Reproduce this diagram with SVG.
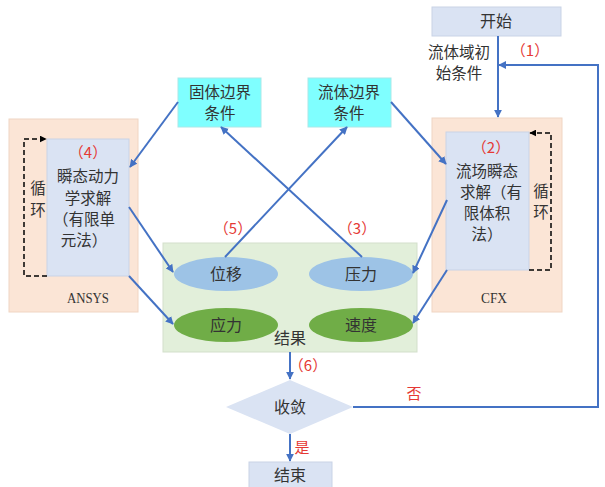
<svg xmlns="http://www.w3.org/2000/svg" width="605" height="487" viewBox="0 0 605 487">
<defs>
<marker id="ab" viewBox="0 0 10 10" refX="9" refY="5" markerWidth="8" markerHeight="8" markerUnits="userSpaceOnUse" orient="auto"><path d="M0,0 L10,5 L0,10 z" fill="#4472C4"/></marker>
<marker id="ak" viewBox="0 0 10 10" refX="9" refY="5" markerWidth="7" markerHeight="7" markerUnits="userSpaceOnUse" orient="auto"><path d="M0,0 L10,5 L0,10 z" fill="#000"/></marker>
<style>
.t{font-family:"Noto Sans CJK SC","Noto Sans",sans-serif;font-size:16px;fill:#333;text-anchor:middle}
.m{font-family:"Noto Sans CJK SC","Noto Sans",sans-serif;font-size:15.5px;fill:#333;text-anchor:middle}
.r{font-family:"Noto Sans CJK SC","Noto Sans",sans-serif;font-size:15px;fill:#E53935;text-anchor:middle}
.s{font-family:"Liberation Serif",serif;font-size:15px;fill:#333;text-anchor:middle}
.c{stroke:#4472C4;stroke-width:2;fill:none;marker-end:url(#ab)}
.d{stroke:#000;stroke-width:1.5;stroke-dasharray:5,3;fill:none;marker-end:url(#ak)}
.box{fill:#DAE3F3;stroke:#c9d3e6;stroke-width:1}
.out{fill:#FBE5D6;stroke:#f0d5c3;stroke-width:1}
.cy{fill:#7FFFFF;stroke:#a9e8e8;stroke-width:1}
</style>
</defs>
<g id="start"><rect class="box" x="432" y="7" width="129" height="29"/><text class="t" x="496" y="27">开始</text></g>
<g id="ansys"><rect class="out" x="9" y="119" width="129" height="193"/><rect class="box" x="47" y="139" width="82" height="137"/>
<text class="r" x="88" y="158">（4）</text>
<text class="m" x="88" y="182">瞬态动力</text><text class="m" x="88" y="204">学求解</text><text class="m" x="84" y="225">（有限单</text><text class="m" x="84" y="246">元法）</text>
<text class="m" x="38" y="194">循</text><text class="m" x="38" y="216">环</text>
<text class="s" x="88" y="303" textLength="42" lengthAdjust="spacingAndGlyphs">ANSYS</text></g>
<g id="cfx"><rect class="out" x="432" y="118" width="130" height="194"/><rect class="box" x="446" y="132" width="83" height="138"/>
<text class="r" x="491" y="153">（2）</text>
<text class="m" x="487" y="177">流场瞬态</text><text class="m" x="491" y="198">求解（有</text><text class="m" x="487" y="219">限体积</text><text class="m" x="487" y="240">法）</text>
<text class="m" x="541" y="197">循</text><text class="m" x="541" y="218">环</text>
<text class="s" x="494" y="303" textLength="26" lengthAdjust="spacingAndGlyphs">CFX</text></g>
<g id="solidbc"><rect class="cy" x="178" y="78" width="83" height="49"/><text class="m" x="220" y="98">固体边界</text><text class="m" x="220" y="119">条件</text></g>
<g id="fluidbc"><rect class="cy" x="308" y="78" width="83" height="49"/><text class="m" x="349" y="98">流体边界</text><text class="m" x="349" y="119">条件</text></g>
<g id="results"><rect x="163" y="243" width="254" height="109" fill="#E2EFDA" stroke="#d3dfcb"/>
<text class="t" x="290" y="344">结果</text></g>
<g id="disp"><ellipse cx="226" cy="274" rx="52" ry="17" fill="#9DC3E6"/><text class="t" x="226" y="280">位移</text></g>
<g id="press"><ellipse cx="361" cy="274" rx="52" ry="17" fill="#9DC3E6"/><text class="t" x="361" y="280">压力</text></g>
<g id="stress"><ellipse cx="226" cy="325" rx="52" ry="17" fill="#70AD47"/><text class="t" x="226" y="331">应力</text></g>
<g id="vel"><ellipse cx="361" cy="325" rx="52" ry="17" fill="#70AD47"/><text class="t" x="361" y="331">速度</text></g>
<g id="conv"><polygon points="290,380 353,407 290,434 226,407" fill="#DAE3F3"/><text class="t" x="290" y="413">收敛</text></g>
<g id="end"><rect class="box" x="249" y="462" width="83" height="26"/><text class="t" x="290" y="481">结束</text></g>
<g id="connectors">
<path class="c" d="M498,36 V117"/>
<path class="c" d="M353,407 H598 V65 H499"/>
<path class="c" d="M178,102 L130,167"/>
<path class="c" d="M391,102 L446,164"/>
<path class="c" d="M129,207 L173,272"/>
<path class="c" d="M129,276 L173,324"/>
<path class="c" d="M447,200 L413,273"/>
<path class="c" d="M447,270 L413,323"/>
<path class="c" d="M225,257 L347,127"/>
<path class="c" d="M362,257 L221,127"/>
<path class="c" d="M290,352 V379"/>
<path class="c" d="M290,434 V461"/>
<path class="d" d="M47,276 H24 V139 H46"/>
<path class="d" d="M529,270 H551 V133 H530"/>
</g>
<g id="labels">
<text class="m" x="459" y="58">流体域初</text><text class="m" x="459" y="79">始条件</text>
<text class="r" x="530" y="56">（1）</text>
<text class="r" x="233" y="234">（5）</text>
<text class="r" x="357" y="234">（3）</text>
<text class="r" x="308" y="371">（6）</text>
<text class="r" x="414" y="399">否</text>
<text class="r" x="302" y="453">是</text>
</g>
</svg>
